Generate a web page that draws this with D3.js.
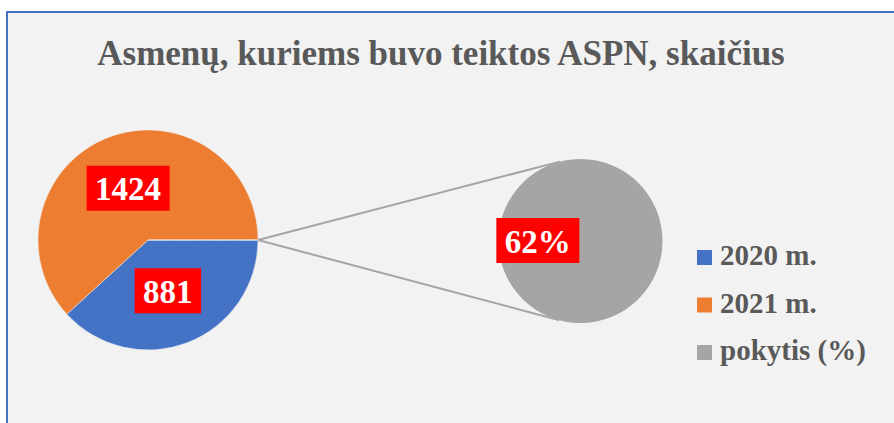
<!DOCTYPE html>
<html>
<head>
<meta charset="utf-8">
<script src="https://cdn.jsdelivr.net/npm/d3@7"></script>
<style>
  html, body { margin: 0; padding: 0; background: #fff; }
  svg { display: block; }
</style>
</head>
<body>
<div id="chart"></div>
<script>
const svgWidth = 894;
const svgHeight = 423;

// data
const title = "Asmenų, kuriems buvo teiktos ASPN, skaičius";
const categories = ["2020 m.", "2021 m.", "pokytis (%)"];
const values = [881, 1424, 0.62];
const labels = ["881", "1424", "62%"];
const colors = ["#4472c4", "#ed7d31", "#a5a5a5"];

// main pie holds first two, the rest goes into the secondary pie
const mainCount = 2;

const mainPie = { cx: 148, cy: 240, r: 110 };
const subPie = { cx: 580.5, cy: 241, r: 82 };

const svg = d3.select("#chart")
  .append("svg")
  .attr("width", svgWidth)
  .attr("height", svgHeight);

// chart area + frame
svg.append("rect")
  .attr("x", 7).attr("y", 12)
  .attr("width", svgWidth - 7).attr("height", svgHeight - 12)
  .attr("fill", "#f2f2f2");

svg.append("path")
  .attr("d", `M7,${svgHeight} V12 H${svgWidth}`)
  .attr("fill", "none")
  .attr("stroke", "#4472c4")
  .attr("stroke-width", 2);

svg.append("text")
  .attr("x", 441)
  .attr("y", 65)
  .attr("text-anchor", "middle")
  .attr("font-family", "'Liberation Serif', 'Times New Roman', serif")
  .attr("font-weight", "bold")
  .attr("font-size", 35)
  .attr("fill", "#595959")
  .text(title);

// main pie: first slices + "other" slice (sum of the rest)
const mainData = values.slice(0, mainCount).map((v, i) => ({ v, i }));
const otherSum = d3.sum(values.slice(mainCount));
mainData.push({ v: otherSum, i: -1 });
const total = d3.sum(mainData, d => d.v);
const otherAngle = otherSum / total * 2 * Math.PI;

const mainArcs = d3.pie()
  .sort(null)
  .value(d => d.v)
  .startAngle(Math.PI / 2 + otherAngle / 2)
  .endAngle(Math.PI / 2 + otherAngle / 2 + 2 * Math.PI)(mainData);

const mainArc = d3.arc().innerRadius(0).outerRadius(mainPie.r);
const mainLabelArc = d3.arc().innerRadius(mainPie.r * 0.5).outerRadius(mainPie.r * 0.5);

const mainG = svg.append("g")
  .attr("transform", `translate(${mainPie.cx}, ${mainPie.cy})`);

mainG.selectAll("path")
  .data(mainArcs)
  .join("path")
  .attr("d", mainArc)
  .attr("fill", d => d.data.i < 0 ? colors[2] : colors[d.data.i])
  .attr("stroke", "#f2f2f2")
  .attr("stroke-width", 0.5);

// secondary pie
const subData = values.slice(mainCount).map((v, i) => ({ v, i: i + mainCount }));
const subArcs = d3.pie()
  .sort(null)
  .value(d => d.v)
  .startAngle(Math.PI / 2)
  .endAngle(Math.PI / 2 + 2 * Math.PI)(subData);

const subArc = d3.arc().innerRadius(0).outerRadius(subPie.r);
const subLabelArc = d3.arc().innerRadius(subPie.r * 0.52).outerRadius(subPie.r * 0.52);

// connector lines: from the "other" slice edge to the tangent points of secondary pie
const px = mainPie.cx + mainPie.r, py = mainPie.cy;
const dx = subPie.cx - px, dy = subPie.cy - py;
const dist = Math.hypot(dx, dy);
const base = Math.atan2(-dy, -dx);
const off = Math.acos(subPie.r / dist);
[base - off, base + off].forEach(a => {
  svg.append("line")
    .attr("x1", px).attr("y1", py)
    .attr("x2", subPie.cx + subPie.r * Math.cos(a))
    .attr("y2", subPie.cy + subPie.r * Math.sin(a))
    .attr("stroke", "#a5a5a5")
    .attr("stroke-width", 2);
});

const subG = svg.append("g")
  .attr("transform", `translate(${subPie.cx}, ${subPie.cy})`);

subG.selectAll("path")
  .data(subArcs)
  .join("path")
  .attr("d", subArc)
  .attr("fill", d => colors[d.data.i]);

// data labels: red boxes with white bold text
function addLabel(g, pos, text) {
  const lg = g.append("g").attr("transform", `translate(${pos[0]}, ${pos[1]})`);
  const t = lg.append("text")
    .attr("text-anchor", "middle")
    .attr("dy", "0.35em")
    .attr("font-family", "'Liberation Serif', 'Times New Roman', serif")
    .attr("font-weight", "bold")
    .attr("font-size", 33)
    .attr("fill", "#fff")
    .text(text);
  const w = t.node().getComputedTextLength() + 17;
  lg.insert("rect", "text")
    .attr("x", -w / 2).attr("y", -23)
    .attr("width", w).attr("height", 45)
    .attr("fill", "#ff0000");
}

mainArcs.filter(d => d.data.i >= 0).forEach(d => {
  addLabel(mainG, mainLabelArc.centroid(d), labels[d.data.i]);
});
subArcs.forEach(d => {
  addLabel(subG, subLabelArc.centroid(d), labels[d.data.i]);
});

// legend
const legend = svg.append("g")
  .attr("transform", "translate(697, 265)");

const rows = legend.selectAll("g")
  .data(categories)
  .join("g")
  .attr("transform", (d, i) => `translate(0, ${i * 47.5})`);

rows.append("rect")
  .attr("x", 0).attr("y", -15)
  .attr("width", 15).attr("height", 15)
  .attr("fill", (d, i) => colors[i]);

rows.append("text")
  .attr("x", 23)
  .attr("y", 0)
  .attr("font-family", "'Liberation Serif', 'Times New Roman', serif")
  .attr("font-weight", "bold")
  .attr("font-size", 29)
  .attr("fill", "#595959")
  .text(d => d);
</script>
</body>
</html>
